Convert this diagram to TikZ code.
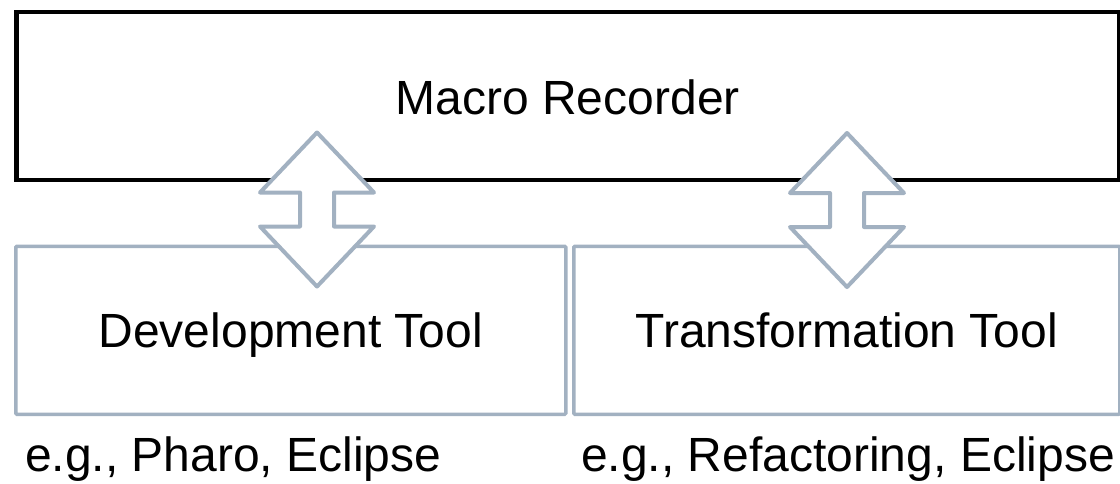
\documentclass[tikz,border=0pt]{standalone}
\usepackage{fontspec}
\setmainfont{Liberation Sans}
\definecolor{boxgray}{RGB}{162,177,193}
\begin{document}
\begin{tikzpicture}[x=1pt,y=-1pt,
  topbox/.style={draw=black,line width=4.5pt,fill=white,inner sep=0pt,
    minimum width=1103pt,minimum height=168pt,anchor=north west,
    font=\fontsize{48}{52}\selectfont,text height=38pt,text depth=0pt},
  toolbox/.style={draw=boxgray,line width=3.5pt,fill=white,inner sep=0pt,
    minimum height=168pt,anchor=north west,rounded corners=1pt,
    font=\fontsize{48}{52}\selectfont,text height=35pt,text depth=0pt},
  note/.style={inner sep=0pt,anchor=base west,font=\fontsize{48}{52}\selectfont},
  dblarrow/.style={draw=boxgray,line width=4pt,fill=white,line join=round}]
\useasboundingbox (0,0) rectangle (1120,483);
\node[topbox] (rec) at (14,9.5) {Macro Recorder};
\node[toolbox,minimum width=550pt] (dev) at (14,244.5) {Development Tool};
\node[toolbox,minimum width=546pt] (tra) at (572,244.5) {Transformation Tool};
\node[note] (n1) at (25,471) {e.g., Pharo, Eclipse};
\node[note] (n2) at (581,471) {e.g., Refactoring, Eclipse};
\coordinate (a1) at (317,132.5);
\coordinate (a2) at (847,133);
\foreach \c in {a1,a2}{
  \draw[dblarrow,shift={(\c)}] (0,0) -- (57,60) -- (17,60) -- (17,94) -- (57,94)
    -- (0,154) -- (-57,94) -- (-17,94) -- (-17,60) -- (-57,60) -- cycle;
}
\end{tikzpicture}
\end{document}
